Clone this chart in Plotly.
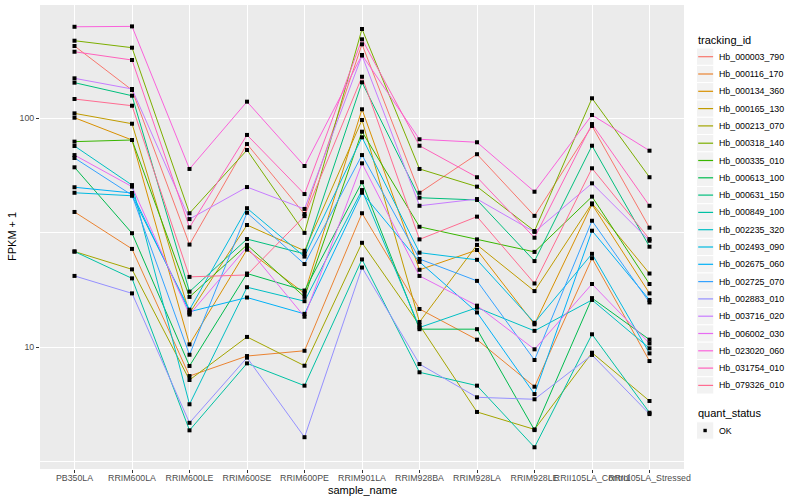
import plotly.graph_objects as go

# ---------------- data ----------------
samples = ["PB350LA", "RRIM600LA", "RRIM600LE", "RRIM600SE", "RRIM600PE",
           "RRIM901LA", "RRIM928BA", "RRIM928LA", "RRIM928LE",
           "RRII105LA_Control", "RRII105LA_Stressed"]

tracking_ids = ["Hb_000003_790", "Hb_000116_170", "Hb_000134_360", "Hb_000165_130",
                "Hb_000213_070", "Hb_000318_140", "Hb_000335_010", "Hb_000613_100",
                "Hb_000631_150", "Hb_000849_100", "Hb_002235_320", "Hb_002493_090",
                "Hb_002675_060", "Hb_002725_070", "Hb_002883_010", "Hb_003716_020",
                "Hb_006002_030", "Hb_023020_060", "Hb_031754_010", "Hb_079326_010"]

hb_000003_790 = [206.9, 132.9, 28.1, 77.2, 38.2, 210.5, 47.3, 69.7, 37.5, 92.6, 33.3]
hb_000116_170 = [39.0, 26.9, 7.49, 9.16, 9.66, 38.5, 14.7, 10.8, 6.73, 24.5, 8.71]
hb_000134_360 = [100.6, 80.4, 10.3, 26.7, 17.2, 109.5, 21.8, 26.6, 12.6, 42.1, 17.2]
hb_000165_130 = [105.1, 94.7, 14.1, 34.2, 26.4, 98.3, 12.9, 28.0, 17.6, 42.5, 21.0]
hb_000213_070 = [26.2, 21.9, 7.20, 11.1, 8.31, 28.6, 12.5, 5.22, 4.38, 9.47, 5.83]
hb_000318_140 = [218.2, 203.4, 38.5, 72.7, 31.6, 245.5, 60.1, 50.3, 32.2, 122.3, 55.3]
hb_000335_010 = [79.1, 80.4, 16.6, 28.0, 16.6, 87.4, 33.6, 29.6, 26.1, 45.5, 18.9]
hb_000613_100 = [61.1, 31.5, 8.29, 21.0, 17.7, 52.6, 12.0, 12.0, 4.35, 16.4, 10.8]
hb_000631_150 = [143.1, 125.5, 17.5, 29.7, 25.6, 143.6, 45.0, 44.0, 23.8, 75.9, 27.5]
hb_000849_100 = [26.2, 20.0, 4.34, 8.51, 6.80, 24.2, 7.78, 6.80, 3.66, 11.4, 5.18]
hb_002235_320 = [75.7, 51.1, 5.64, 18.3, 15.9, 48.6, 12.2, 14.9, 11.8, 16.1, 9.90]
hb_002493_090 = [47.3, 45.9, 14.6, 40.5, 24.9, 82.6, 25.9, 24.1, 12.8, 25.6, 9.41]
hb_002675_060 = [50.0, 47.2, 14.3, 16.5, 14.0, 47.3, 23.6, 14.2, 6.25, 32.3, 16.1]
hb_002725_070 = [67.1, 46.2, 9.28, 38.7, 23.1, 69.1, 24.3, 19.5, 8.80, 35.7, 15.7]
hb_002883_010 = [20.5, 17.2, 4.68, 9.01, 4.05, 22.3, 8.45, 6.05, 5.93, 9.26, 5.11]
hb_003716_020 = [149.5, 134.3, 36.3, 50.1, 40.2, 188.0, 41.5, 44.4, 31.9, 52.0, 29.2]
hb_006002_030 = [69.1, 50.3, 13.9, 27.4, 13.6, 63.6, 20.5, 15.2, 9.80, 18.9, 10.4]
hb_023020_060 = [251.0, 252.0, 60.1, 118.2, 61.9, 189.0, 81.0, 78.6, 47.8, 103.4, 72.2]
hb_031754_010 = [195.3, 179.7, 33.4, 84.6, 46.7, 221.3, 75.9, 55.3, 30.1, 94.4, 41.5]
hb_079326_010 = [121.4, 113.5, 20.3, 20.7, 37.4, 151.9, 29.6, 37.2, 19.0, 60.5, 29.7]

series_values = [hb_000003_790, hb_000116_170, hb_000134_360, hb_000165_130,
                 hb_000213_070, hb_000318_140, hb_000335_010, hb_000613_100,
                 hb_000631_150, hb_000849_100, hb_002235_320, hb_002493_090,
                 hb_002675_060, hb_002725_070, hb_002883_010, hb_003716_020,
                 hb_006002_030, hb_023020_060, hb_031754_010, hb_079326_010]

quant_status = ["OK"]
y_tick_vals = [10, 100]
y_tick_text = ["10", "100"]

colors = ["#F8766D", "#EA8331", "#D89000", "#C09B00", "#A3A500", "#7CAE00",
          "#39B600", "#00BB4E", "#00BF7D", "#00C1A3", "#00BFC4", "#00BAE0",
          "#00B0F6", "#35A2FF", "#9590FF", "#C77CFF", "#E76BF3", "#FA62DB",
          "#FF62BC", "#FF6C91"]

# ---------------- layout geometry (pixels) ----------------
W, H = 800, 500
L, R, T, B = 40, 116, 5, 31
PW, PH = W - L - R, H - T - B
FONT = "Liberation Sans"


def px(x):
    return (x - L) / PW


def py(y):
    return (H - B - y) / PH


fig = go.Figure()

for tid, vals, col in zip(tracking_ids, series_values, colors):
    fig.add_trace(go.Scatter(x=samples, y=vals, mode="lines", name=tid,
                             line=dict(color=col, width=1), showlegend=False))

all_x, all_y = [], []
for vals in series_values:
    all_x += samples
    all_y += vals
fig.add_trace(go.Scatter(x=all_x, y=all_y, mode="markers", name="OK",
                         marker=dict(symbol="square", size=4, color="black",
                                     line=dict(width=0)),
                         showlegend=False))

fig.update_layout(
    width=W, height=H, autosize=False,
    margin=dict(l=L, r=R, t=T, b=B, pad=0),
    paper_bgcolor="white", plot_bgcolor="#EBEBEB",
    font=dict(family=FONT, size=9, color="#4D4D4D"),
    showlegend=False,
)
fig.update_xaxes(
    type="category", categoryorder="array", categoryarray=samples,
    range=[-0.6, len(samples) - 0.4],
    showgrid=True, gridcolor="white", gridwidth=1.1,
    ticks="outside", ticklen=3, tickwidth=1, tickcolor="#333333",
    tickangle=0, tickfont=dict(family=FONT, size=8.8, color="#4D4D4D"),
    ticklabelstandoff=-3,
    zeroline=False, showline=False, fixedrange=True,
)
fig.update_yaxes(
    type="log", range=[0.4686, 2.4948],
    tickvals=y_tick_vals, ticktext=y_tick_text,
    showgrid=True, gridcolor="white", gridwidth=1.1,
    minor=dict(tickvals=[10 ** 0.5, 10 ** 1.5, 10 ** 2.5], showgrid=True,
               gridcolor="white", gridwidth=0.5, ticklen=0),
    ticks="outside", ticklen=3, tickwidth=1, tickcolor="#333333",
    tickfont=dict(family=FONT, size=8.8, color="#4D4D4D"),
    zeroline=False, showline=False, fixedrange=True,
)

shapes = []
annotations = []

# axis titles
annotations.append(dict(x=px(L + PW / 2), y=py(489.5), xref="paper", yref="paper",
                        text="sample_name", showarrow=False,
                        font=dict(family=FONT, size=11, color="black"),
                        xanchor="center", yanchor="middle"))
annotations.append(dict(x=px(12), y=py(T + PH / 2), xref="paper", yref="paper",
                        text="FPKM + 1", showarrow=False, textangle=-90,
                        font=dict(family=FONT, size=11, color="black"),
                        xanchor="center", yanchor="middle"))

# legend: tracking_id
annotations.append(dict(x=px(696), y=py(40.5), xref="paper", yref="paper",
                        text="tracking_id", showarrow=False,
                        font=dict(family=FONT, size=11, color="black"),
                        xanchor="left", yanchor="middle"))
key = 17.3
for i, (tid, col) in enumerate(zip(tracking_ids, colors)):
    cy = 56.7 + key * i
    shapes.append(dict(type="rect", xref="paper", yref="paper",
                       x0=px(696.5), x1=px(696.5 + key), y0=py(cy - key / 2), y1=py(cy + key / 2),
                       fillcolor="#F2F2F2", line=dict(color="white", width=1), layer="above"))
    shapes.append(dict(type="line", xref="paper", yref="paper",
                       x0=px(698.2), x1=px(713.1), y0=py(cy), y1=py(cy),
                       line=dict(color=col, width=1.2), layer="above"))
    annotations.append(dict(x=px(717), y=py(cy), xref="paper", yref="paper",
                            text=tid, showarrow=False,
                            font=dict(family=FONT, size=8.8, color="black"),
                            xanchor="left", yanchor="middle"))

# legend: quant_status
annotations.append(dict(x=px(696), y=py(412.5), xref="paper", yref="paper",
                        text="quant_status", showarrow=False,
                        font=dict(family=FONT, size=11, color="black"),
                        xanchor="left", yanchor="middle"))
for j, qs in enumerate(quant_status):
    cy = 430.5 + key * j
    shapes.append(dict(type="rect", xref="paper", yref="paper",
                       x0=px(696.5), x1=px(696.5 + key), y0=py(cy - key / 2), y1=py(cy + key / 2),
                       fillcolor="#F2F2F2", line=dict(color="white", width=1), layer="above"))
    shapes.append(dict(type="rect", xref="paper", yref="paper",
                       x0=px(703.4), x1=px(706.8), y0=py(cy - 1.7), y1=py(cy + 1.7),
                       fillcolor="black", line=dict(width=0), layer="above"))
    annotations.append(dict(x=px(717), y=py(cy), xref="paper", yref="paper",
                            text=qs, showarrow=False,
                            font=dict(family=FONT, size=8.8, color="black"),
                            xanchor="left", yanchor="middle"))

fig.update_layout(shapes=shapes, annotations=annotations)

fig.write_html("out.html", config={"displayModeBar": False},
               post_script="document.body.style.margin='0px';document.body.style.padding='0px';")
